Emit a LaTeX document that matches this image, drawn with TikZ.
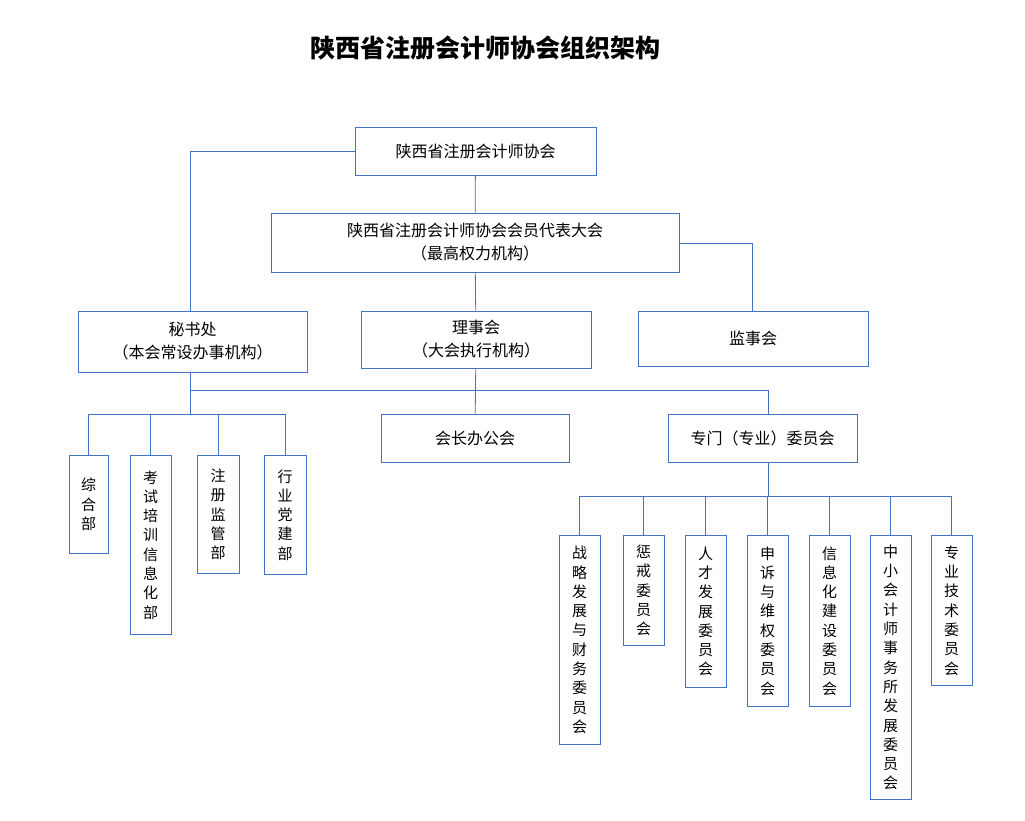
\documentclass[tikz,border=0pt]{standalone}
\usepackage{fontspec}
\setmainfont{Noto Sans CJK SC}
\begin{document}
\begin{tikzpicture}[x=1pt,y=-1pt,
 ln/.style={draw={rgb,255:red,68;green,114;blue,196},line width=0.8pt},
 bx/.style={ln,rectangle,inner sep=0pt,font=\fontsize{16}{23}\selectfont,align=center},
 vb/.style={ln,rectangle,inner sep=0pt,font=\fontsize{15}{19.3}\selectfont,align=center,anchor=north}]
\useasboundingbox (0,0) rectangle (1025,821);
\node[font=\fontsize{25}{28}\selectfont\bfseries] (title) at (485,48) {陕西省注册会计师协会组织架构};
\node[bx,minimum width=241,minimum height=48] (top) at (475.5,151) {陕西省注册会计师协会};
\node[bx,minimum width=408,minimum height=59] (cong) at (475,242.5) {陕西省注册会计师协会会员代表大会\\（最高权力机构）};
\node[bx,minimum width=229,minimum height=61] (msc) at (192.5,341.5) {秘书处\\（本会常设办事机构）};
\node[bx,minimum width=230,minimum height=57] (lsh) at (476,339.5) {理事会\\（大会执行机构）};
\node[bx,minimum width=230,minimum height=55] (jsh) at (753,338.5) {监事会};
\node[bx,minimum width=188,minimum height=48] (hz) at (475,438) {会长办公会};
\node[bx,minimum width=189,minimum height=48] (zm) at (762.5,438) {专门（专业）委员会};
\coordinate (c1) at (190,151);
\coordinate (c2) at (752,243);
\coordinate (b1) at (190,390);
\coordinate (b2) at (768,390);
\coordinate (d0) at (190,414);
\coordinate (e0) at (768,496);
% left boxes
\node[vb,minimum width=39,minimum height=98] (s1) at (88.5,455) {综\\合\\部};
\node[vb,minimum width=41,minimum height=179] (s2) at (150.5,455) {考\\试\\培\\训\\信\\息\\化\\部};
\node[vb,minimum width=42,minimum height=118] (s3) at (218,455) {注\\册\\监\\管\\部};
\node[vb,minimum width=42,minimum height=119] (s4) at (285,455) {行\\业\\党\\建\\部};
% committees
\node[vb,minimum width=41,minimum height=209] (k1) at (579.5,535) {战\\略\\发\\展\\与\\财\\务\\委\\员\\会};
\node[vb,minimum width=41,minimum height=110] (k2) at (643.5,535) {惩\\戒\\委\\员\\会};
\node[vb,minimum width=41,minimum height=152] (k3) at (705.5,535) {人\\才\\发\\展\\委\\员\\会};
\node[vb,minimum width=41,minimum height=171] (k4) at (767.5,535) {申\\诉\\与\\维\\权\\委\\员\\会};
\node[vb,minimum width=41,minimum height=171] (k5) at (829.5,535) {信\\息\\化\\建\\设\\委\\员\\会};
\node[vb,minimum width=41,minimum height=264] (k6) at (890.5,535) {中\\小\\会\\计\\师\\事\\务\\所\\发\\展\\委\\员\\会};
\node[vb,minimum width=41,minimum height=150] (k7) at (951.5,535) {专\\业\\技\\术\\委\\员\\会};
% connectors
\draw[ln] (top) -- (cong);
\draw[ln] (top.west) -- (c1) -- (c1|-msc.north);
\draw[ln] (cong) -- (lsh);
\draw[ln] (cong.east|-c2) -- (c2) -- (c2|-jsh.north);
\draw[ln] (b1|-msc.south) -- (b1) -- (b2) -- (b2|-zm.north);
\draw[ln] (lsh) -- (hz);
\draw[ln] (b1) -- (d0);
\draw[ln] (s1.north|-d0) -- (s4.north|-d0);
\foreach \n in {s1,s2,s3,s4} \draw[ln] (\n.north|-d0) -- (\n.north);
\draw[ln] (zm.south-|e0) -- (e0);
\draw[ln] (k1.north|-e0) -- (k7.north|-e0);
\foreach \n in {k1,k2,k3,k4,k5,k6,k7} \draw[ln] (\n.north|-e0) -- (\n.north);
\end{tikzpicture}
\end{document}
